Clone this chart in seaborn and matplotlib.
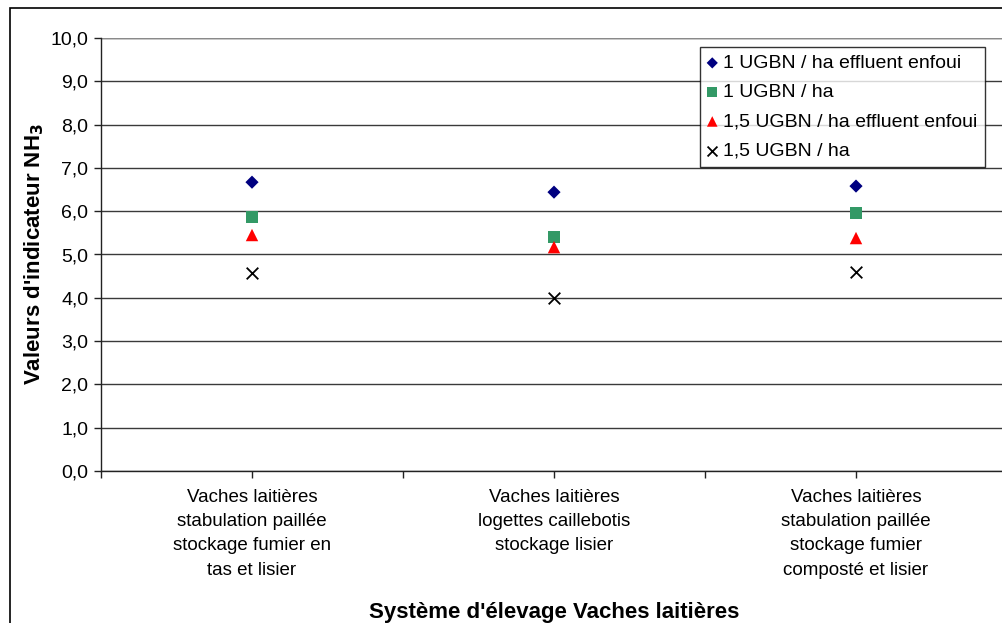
import matplotlib
matplotlib.use("Agg")
import matplotlib.pyplot as plt
from matplotlib.patches import Rectangle
import seaborn as sns
import pandas as pd
from matplotlib.ticker import FuncFormatter, FixedLocator

categories = [
    "Vaches laitières\nstabulation paillée\nstockage fumier en\ntas et lisier",
    "Vaches laitières\nlogettes caillebotis\nstockage lisier",
    "Vaches laitières\nstabulation paillée\nstockage fumier\ncomposté et lisier",
]
series_names = [
    "1 UGBN / ha effluent enfoui",
    "1 UGBN / ha",
    "1,5 UGBN / ha effluent enfoui",
    "1,5 UGBN / ha",
]
s1_enfoui = [6.67, 6.44, 6.58]
s1 = [5.87, 5.40, 5.96]
s15_enfoui = [5.45, 5.17, 5.38]
s15 = [4.57, 4.00, 4.60]

series_values = [s1_enfoui, s1, s15_enfoui, s15]
colors = ["#000080", "#339966", "#FF0000", "#000000"]
markers = ["D", "s", "^", "x"]
sizes = [45, 70, 80, 70]

sns.set_theme(style="white")
plt.rcParams["font.family"] = ["Liberation Sans", "DejaVu Sans"]
plt.rcParams["text.color"] = "black"
plt.rcParams["axes.labelcolor"] = "black"
plt.rcParams["xtick.color"] = "black"
plt.rcParams["ytick.color"] = "black"

rows = []
for name, vals in zip(series_names, series_values):
    for i, v in enumerate(vals):
        rows.append({"pos": i, "value": v, "serie": name})
df = pd.DataFrame(rows)

fig = plt.figure(figsize=(10.03, 6.23), dpi=100)
ax = fig.add_axes([101 / 1003, 1 - 471 / 623, 906 / 1003, 433 / 623])

for name, c, m, s in zip(series_names, colors, markers, sizes):
    sub = df[df["serie"] == name]
    kw = dict(linewidth=1.3) if m == "x" else dict(edgecolor="none")
    sns.scatterplot(data=sub, x="pos", y="value", ax=ax, color=c, marker=m,
                    s=s, label=name, zorder=3, **kw)

ax.set_xlim(-0.5, 2.5)
ax.set_ylim(0, 10)
ax.yaxis.set_major_locator(FixedLocator([i for i in range(11)]))
ax.yaxis.set_major_formatter(FuncFormatter(lambda v, p: f"{v:.1f}".replace(".", ",")))
ax.set_xticks([0, 1, 2])
ax.set_xticklabels(categories, linespacing=1.55)
ax.set_xticks([-0.5, 0.5, 1.5, 2.5], minor=True)

ax.grid(axis="y", color="#3a3a3a", linewidth=1.0)
ax.set_axisbelow(True)
for side in ["top", "right"]:
    ax.spines[side].set_visible(False)
for side in ["left", "bottom"]:
    ax.spines[side].set_color("#222222")
    ax.spines[side].set_linewidth(1.0)
ax.axhline(10, color="#8a8a8a", linewidth=1.0, zorder=1)

ax.tick_params(axis="y", which="major", direction="out", length=5, width=1,
               color="#222222", labelsize=14, pad=4, left=True)
ax.tick_params(axis="x", which="both", direction="out", length=5, width=1,
               color="#222222", bottom=True)
ax.tick_params(axis="x", which="major", labelsize=13.5, pad=8)

ax.set_xlabel("Système d'élevage Vaches laitières", fontsize=16,
              fontweight="bold", labelpad=17)
ax.set_ylabel("Valeurs d'indicateur NH$_\\mathbf{3}$", fontsize=16,
              fontweight="bold", labelpad=3)

leg = ax.legend(loc="upper left", bbox_to_anchor=(700 / 1003, 1 - 47 / 623),
                bbox_transform=fig.transFigure, frameon=True, fancybox=False,
                edgecolor="black", fontsize=14, handlelength=0.5,
                handletextpad=0.3, labelspacing=0.6, borderpad=0.38,
                borderaxespad=0, markerscale=0.85)
leg.get_frame().set_linewidth(1.0)

fig.patches.append(Rectangle((10 / 1003, -0.1), 1.2, 1 - 8 / 623 + 0.1,
                             transform=fig.transFigure, fill=False,
                             edgecolor="black", linewidth=1.2))

fig.savefig("out.png", dpi=100)
